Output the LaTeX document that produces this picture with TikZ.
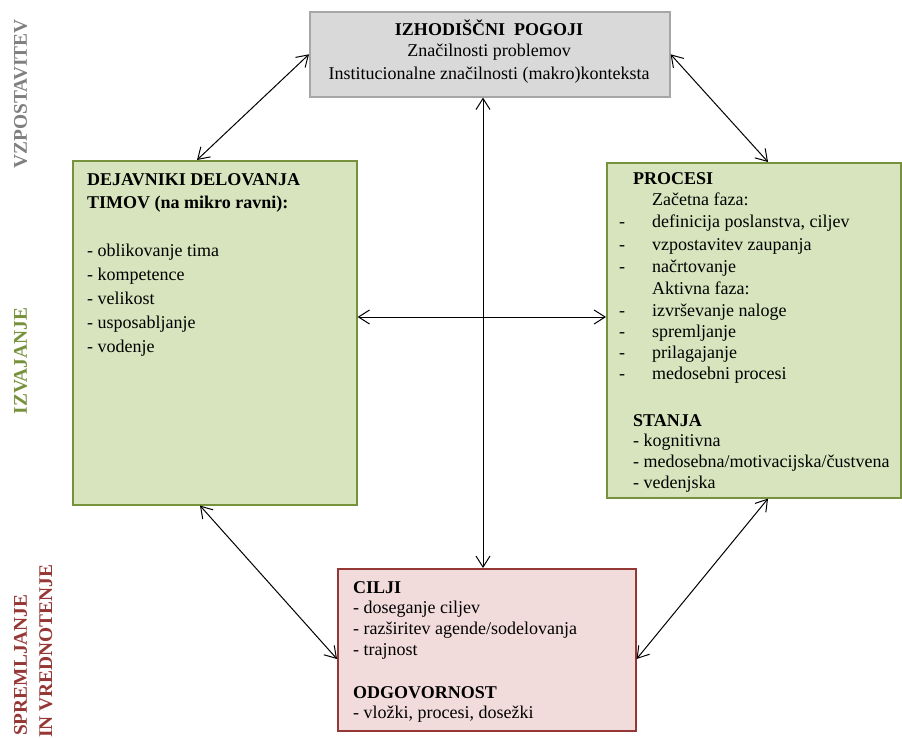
\documentclass[tikz,border=0pt]{standalone}
\usepackage{fontspec}
\setmainfont{Liberation Serif}
\usetikzlibrary{arrows.meta,calc}
\definecolor{grayfill}{HTML}{D9D9D9}
\definecolor{grayline}{HTML}{A6A6A6}
\definecolor{greenfill}{HTML}{D7E4BD}
\definecolor{greenline}{HTML}{76923C}
\definecolor{pinkfill}{HTML}{F2DCDB}
\definecolor{redline}{HTML}{953735}
\definecolor{graylabel}{HTML}{7F7F7F}
\begin{document}
\begin{tikzpicture}[x=1pt,y=-1pt,
  boxnode/.style={anchor=north west, inner sep=0pt, line width=1.6pt},
  graybox/.style={boxnode, draw=grayline, fill=grayfill},
  greenbox/.style={boxnode, draw=greenline, fill=greenfill},
  pinkbox/.style={boxnode, draw=redline, fill=pinkfill},
  txt/.style={anchor=base west, inner sep=0pt, font=\fontsize{18}{21}\selectfont},
  ctxt/.style={anchor=base, inner sep=0pt, font=\fontsize{18}{21}\selectfont},
  hd/.style={font=\fontsize{18}{21}\selectfont\bfseries},
  sidelabel/.style={rotate=90, inner sep=0pt, font=\fontsize{19.4}{22}\selectfont\bfseries},
  arr/.style={{Straight Barb[length=11pt,width=14pt]}-{Straight Barb[length=11pt,width=14pt]}, line width=1pt}
]
\useasboundingbox (0,0) rectangle (902,738);

% side labels
\node[sidelabel, text=graylabel, anchor=base] (s1) at (27,94) {VZPOSTAVITEV};
\node[sidelabel, text=greenline, anchor=base] (s2) at (27,361) {IZVAJANJE};
\node[sidelabel, text=redline, anchor=base west] (s3) at (27,736) {SPREMLJANJE};
\node[sidelabel, text=redline, anchor=base west] (s4) at (52,738) {IN VREDNOTENJE};

% boxes
\node[graybox, minimum width=360pt, minimum height=85pt] (T) at (309,11) {};
\node[greenbox, minimum width=284pt, minimum height=344pt] (L) at (72,160) {};
\node[greenbox, minimum width=294pt, minimum height=335pt] (R) at (606,162) {};
\node[pinkbox, minimum width=298pt, minimum height=162pt] (B) at (337,568) {};

% top box text
\node[ctxt, hd] (t1) at (489,36) {IZHODIŠČNI\ \ POGOJI};
\node[ctxt] (t2) at (489,57) {Značilnosti problemov};
\node[ctxt] (t3) at (489,80) {Institucionalne značilnosti (makro)konteksta};

% left box text
\node[txt, hd] (l1) at (87,186) {DEJAVNIKI DELOVANJA};
\node[txt, hd] (l2) at (87,209) {TIMOV (na mikro ravni):};
\node[txt] (l3) at (87,256) {- oblikovanje tima};
\node[txt] (l4) at (87,280) {- kompetence};
\node[txt] (l5) at (87,304) {- velikost};
\node[txt] (l6) at (87,328) {- usposabljanje};
\node[txt] (l7) at (87,352) {- vodenje};

% right box text
\node[txt, hd] (r1) at (633,185) {PROCESI};
\node[txt] (r2) at (652,206) {Začetna faza:};
\node[txt] (r3d) at (619,228) {-};
\node[txt] (r3) at (652,228) {definicija poslanstva, ciljev};
\node[txt] (r4d) at (619,250) {-};
\node[txt] (r4) at (652,250) {vzpostavitev zaupanja};
\node[txt] (r5d) at (619,272) {-};
\node[txt] (r5) at (652,272) {načrtovanje};
\node[txt] (r6) at (652,294) {Aktivna faza:};
\node[txt] (r7d) at (619,316) {-};
\node[txt] (r7) at (652,316) {izvrševanje naloge};
\node[txt] (r8d) at (619,337) {-};
\node[txt] (r8) at (652,337) {spremljanje};
\node[txt] (r9d) at (619,358) {-};
\node[txt] (r9) at (652,358) {prilagajanje};
\node[txt] (r10d) at (619,379) {-};
\node[txt] (r10) at (652,379) {medosebni procesi};
\node[txt, hd] (r11) at (633,426) {STANJA};
\node[txt] (r12) at (633,446) {- kognitivna};
\node[txt] (r13) at (633,467) {- medosebna/motivacijska/čustvena};
\node[txt] (r14) at (633,488) {- vedenjska};

% bottom box text
\node[txt, hd] (b1) at (353,593) {CILJI};
\node[txt] (b2) at (353,613) {- doseganje ciljev};
\node[txt] (b3) at (353,634) {- razširitev agende/sodelovanja};
\node[txt] (b4) at (353,655) {- trajnost};
\node[txt, hd] (b5) at (353,698) {ODGOVORNOST};
\node[txt] (b6) at (353,718) {- vložki, procesi, dosežki};

% connector end points
\coordinate (Ltop) at ($(L.north west)+(125,0)$);
\coordinate (Rtop) at ($(R.north west)+(162,0)$);
\coordinate (Tbot) at ($(T.south west)+(174,0)$);
\coordinate (Btop) at ($(B.north west)+(146,0)$);
\coordinate (Lright) at ($(L.north east)+(0,157)$);
\coordinate (Rleft) at ($(R.north west)+(0,155)$);
\coordinate (Lbot) at ($(L.south west)+(128,0)$);
\coordinate (Bleft) at ($(B.north west)+(0,91)$);
\coordinate (Rbot) at ($(R.south west)+(162,0)$);
\coordinate (Bright) at ($(B.north east)+(0,91)$);

% connectors
\draw[arr] (T.west) -- (Ltop);
\draw[arr] (T.east) -- (Rtop);
\draw[arr] (Tbot) -- (Btop);
\draw[arr] (Lright) -- (Rleft);
\draw[arr] (Lbot) -- (Bleft);
\draw[arr] (Rbot) -- (Bright);
\end{tikzpicture}
\end{document}
